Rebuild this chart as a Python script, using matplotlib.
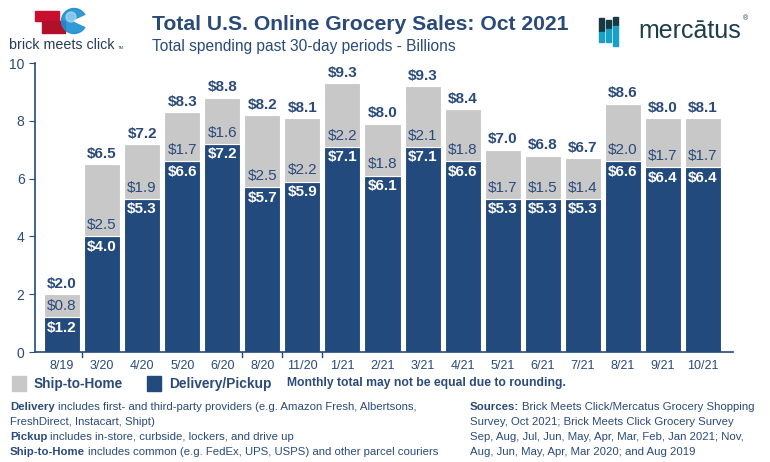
import matplotlib
matplotlib.use("Agg")
import matplotlib.pyplot as plt
from matplotlib.patches import Rectangle, Circle, Wedge
import numpy as np

# data (billions of $)
months = ["8/19", "3/20", "4/20", "5/20", "6/20", "8/20", "11/20", "1/21", "2/21",
          "3/21", "4/21", "5/21", "6/21", "7/21", "8/21", "9/21", "10/21"]
delivery_pickup = [1.2, 4.0, 5.3, 6.6, 7.2, 5.7, 5.9, 7.1, 6.1, 7.1, 6.6, 5.3, 5.3, 5.3, 6.6, 6.4, 6.4]
ship_to_home = [0.8, 2.5, 1.9, 1.7, 1.6, 2.5, 2.2, 2.2, 1.8, 2.1, 1.8, 1.7, 1.5, 1.4, 2.0, 1.7, 1.7]
totals = [2.0, 6.5, 7.2, 8.3, 8.8, 8.2, 8.1, 9.3, 8.0, 9.3, 8.4, 7.0, 6.8, 6.7, 8.6, 8.0, 8.1]

DARK = "#224a7c"
GRAY = "#c8c8c8"
TXT = "#2a4a7a"

plt.rcParams['font.family'] = ['Liberation Sans', 'DejaVu Sans']

fig = plt.figure(figsize=(7.7, 4.62), dpi=100)
ax = fig.add_axes([0.0455, 0.238, 0.9065, 0.6255])

x = np.arange(len(months))
ax.bar(x, delivery_pickup, width=0.9, color=DARK, edgecolor="white", linewidth=0.8)
ax.bar(x, ship_to_home, bottom=delivery_pickup, width=0.9, color=GRAY,
       edgecolor="white", linewidth=0.8)

for i in range(len(months)):
    d = delivery_pickup[i]
    s = ship_to_home[i]
    ax.text(x[i], d - 0.12, "$%.1f" % d, ha="center", va="top", color="white",
            fontsize=11, fontweight="bold")
    ax.text(x[i], d + 0.15, "$%.1f" % s, ha="center", va="bottom", color=TXT,
            fontsize=11)
    ax.text(x[i], d + s + 0.12, "$%.1f" % totals[i], ha="center", va="bottom",
            color=TXT, fontsize=11, fontweight="bold")

ax.set_xlim(-0.674, 16.75)
ax.set_ylim(0, 10)
ax.set_yticks([0, 2, 4, 6, 8, 10])
ax.set_xticks(x)
ax.set_xticklabels(months)
ax.tick_params(axis="x", length=0, labelsize=9, colors=TXT, pad=6)
ax.tick_params(axis="y", length=4, labelsize=10, colors=TXT, direction="out")
# small ticks where the time series jumps
for b in [0.5, 4.5, 5.5, 6.5]:
    ax.plot([b, b], [0, -0.18], color=DARK, lw=1, clip_on=False)
for side in ["top", "right"]:
    ax.spines[side].set_visible(False)
ax.spines["left"].set_color(DARK)
ax.spines["bottom"].set_color(DARK)
ax.spines["left"].set_linewidth(1.2)
ax.spines["bottom"].set_linewidth(1.2)

# overlay in pixel units for logos, legend and notes
lay = fig.add_axes([0, 0, 1, 1], facecolor="none")
lay.set_xlim(0, 770)
lay.set_ylim(462, 0)
lay.axis("off")

# titles
lay.text(152, 25, "Total U.S. Online Grocery Sales: Oct 2021", ha="left", va="center",
         fontsize=15.2, fontweight="bold", color=TXT)
lay.text(152, 46, "Total spending past 30-day periods - Billions", ha="left", va="center",
         fontsize=11.2, color=TXT)

# brick meets click logo (rough)
lay.add_patch(Rectangle((35, 11), 24, 10, color="#c8102e", zorder=2))
lay.add_patch(Rectangle((42, 21), 23, 12, color="#b0102a", zorder=2))
lay.add_patch(Circle((74, 21), 12.5, color="#1a8fd0", zorder=3, alpha=0.9))
lay.add_patch(Wedge((74, 21), 13.5, -25, 25, color="white", zorder=4))
lay.add_patch(Circle((71, 17), 5, color="#bfe4f7", zorder=4, alpha=0.6))
lay.text(9, 45, "brick meets click", ha="left", va="center", fontsize=10.3, color="#2a3a5a")
lay.text(118, 48, "TM", ha="left", va="center", fontsize=3, color="#2a3a5a")

# mercatus logo (rough)
for bx, top, mid, bot in [(599, 18, 32, 42), (606, 20, 29, 42), (613, 17, 26, 46)]:
    lay.add_patch(Rectangle((bx, top), 5, mid - top, color="#163a45", zorder=2))
    lay.add_patch(Rectangle((bx, mid), 5, bot - mid, color="#1aa0c8", zorder=2))
lay.text(638, 31, "mercātus", ha="left", va="center", fontsize=18, color="#1d3d4a")
lay.text(743, 19, "®", ha="left", va="center", fontsize=5, color="#1d3d4a")

# legend row
lay.add_patch(Rectangle((12, 376), 14, 15, color=GRAY))
lay.text(34, 384, "Ship-to-Home", ha="left", va="center", fontsize=9.8,
         fontweight="bold", color=TXT)
lay.add_patch(Rectangle((147, 376), 14, 15, color=DARK))
lay.text(169, 384, "Delivery/Pickup", ha="left", va="center", fontsize=9.9,
         fontweight="bold", color=TXT)
lay.text(287, 383, "Monthly total may not be equal due to rounding.", ha="left",
         va="center", fontsize=8.7, fontweight="bold", color=TXT)

# footnotes with bold lead words
renderer = fig.canvas.get_renderer()
NOTE = 8.2


def note(px, py, bold, rest):
    t = lay.text(px, py, bold, ha="left", va="center", fontsize=NOTE,
                 fontweight="bold", color=TXT)
    bb = t.get_window_extent(renderer)
    # bb is in display px from bottom-left; convert to overlay coords
    x1 = lay.transData.inverted().transform((bb.x1, bb.y0))[0]
    lay.text(x1 + 3, py, rest, ha="left", va="center", fontsize=NOTE, color=TXT)


note(10, 407, "Delivery", "includes first- and third-party providers (e.g. Amazon Fresh, Albertsons,")
lay.text(10, 422, "FreshDirect, Instacart, Shipt)", ha="left", va="center", fontsize=NOTE, color=TXT)
note(10, 437, "Pickup", "includes in-store, curbside, lockers, and drive up")
note(10, 452, "Ship-to-Home", "includes common (e.g. FedEx, UPS, USPS) and other parcel couriers")

note(470, 407, "Sources:", "Brick Meets Click/Mercatus Grocery Shopping")
lay.text(470, 422, "Survey, Oct 2021; Brick Meets Click Grocery Survey", ha="left",
         va="center", fontsize=NOTE, color=TXT)
lay.text(470, 437, "Sep, Aug, Jul, Jun, May, Apr, Mar, Feb, Jan 2021; Nov,", ha="left",
         va="center", fontsize=NOTE, color=TXT)
lay.text(470, 452, "Aug, Jun, May, Apr, Mar 2020; and Aug 2019", ha="left",
         va="center", fontsize=NOTE, color=TXT)

fig.savefig("out.png", dpi=100)
